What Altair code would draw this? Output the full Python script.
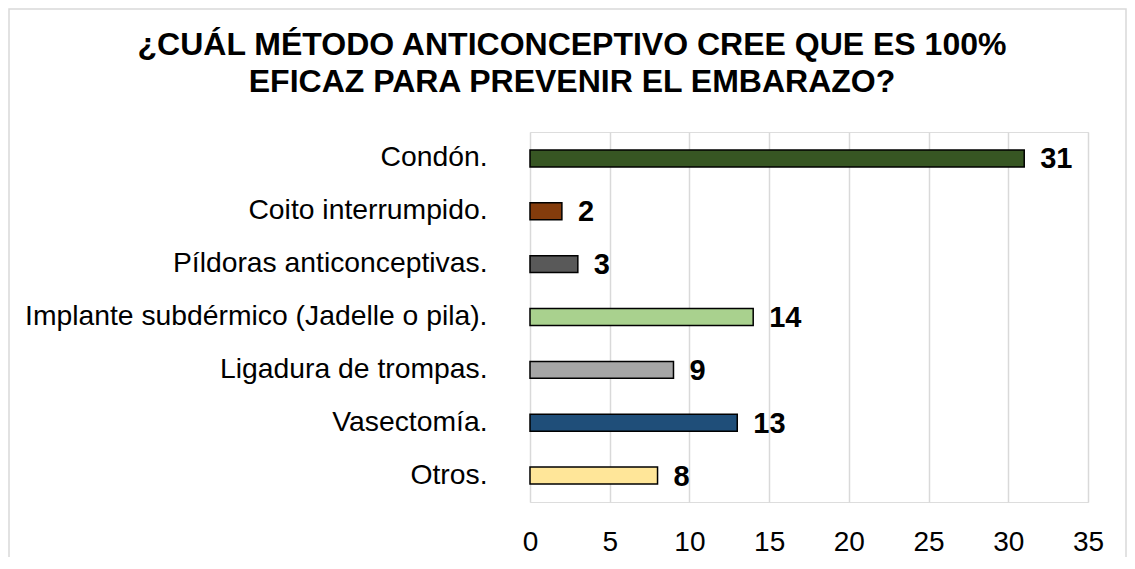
import altair as alt
import pandas as pd

categories = ["Condón.", "Coito interrumpido.", "Píldoras anticonceptivas.",
              "Implante subdérmico (Jadelle o pila).", "Ligadura de trompas.",
              "Vasectomía.", "Otros."]
values = [31, 2, 3, 14, 9, 13, 8]
colors = ["#375623", "#843c0c", "#595959", "#a9d18e", "#a6a6a6", "#1f4e79", "#ffe699"]
x_ticks = [0, 5, 10, 15, 20, 25, 30, 35]
title_lines = ["¿CUÁL MÉTODO ANTICONCEPTIVO CREE QUE ES 100%",
               "EFICAZ PARA PREVENIR EL EMBARAZO?"]

df = pd.DataFrame({"cat": categories, "val": values, "color": colors})

FONT = "Liberation Sans"
W, H = 558, 370
PAD_L, PAD_T, PAD_R, PAD_B = 522, 124, 39, 55

y_enc = alt.Y("cat:N", sort=categories, title=None,
              scale=alt.Scale(paddingInner=0.68, paddingOuter=0.34),
              axis=alt.Axis(domain=False, ticks=False, labelPadding=43, labelLimit=0,
                            labelFontSize=28.3, labelFont=FONT, labelColor="#000000"))
x_enc = alt.X("val:Q", title=None,
              scale=alt.Scale(domain=[0, 35], nice=False),
              axis=alt.Axis(values=x_ticks, domain=False, ticks=False, labelPadding=26,
                            labelFlush=False, labelOverlap=False,
                            labelFontSize=28, labelFont=FONT, labelColor="#000000",
                            grid=True, gridColor="#d9d9d9", gridWidth=1.5))

bars = alt.Chart(df).mark_bar(stroke="#000000", strokeWidth=1.5).encode(
    y=y_enc, x=x_enc, color=alt.Color("color:N", scale=None))

labels = alt.Chart(df).mark_text(align="left", baseline="middle", dx=16, dy=1,
                                 font=FONT, fontSize=29, fontWeight="bold",
                                 color="#000000").encode(
    y=alt.Y("cat:N", sort=categories), x="val:Q", text="val:Q")

one = pd.DataFrame({"a": [0]})

frame = alt.Chart(one).mark_rect(
    fill="transparent", stroke="#d9d9d9", strokeWidth=1.5).encode(
    x=alt.value(-PAD_L + 1), x2=alt.value(W + PAD_R - 1),
    y=alt.value(-PAD_T + 1), y2=alt.value(H + PAD_B + 40))

title = alt.Chart(one).mark_text(
    align="center", baseline="alphabetic", font=FONT, fontSize=32,
    fontWeight="bold", color="#000000", lineHeight=36.5).encode(
    x=alt.value(42), y=alt.value(-77), text=alt.value(title_lines))

chart = alt.layer(frame, bars, labels, title).properties(
    width=W, height=H,
    autosize=alt.AutoSizeParams(type="none"),
    padding={"left": PAD_L, "top": PAD_T, "right": PAD_R, "bottom": PAD_B},
).configure_view(stroke=None).configure(background="#ffffff")

chart.save("out.html", embed_options={"renderer": "svg", "actions": False})
